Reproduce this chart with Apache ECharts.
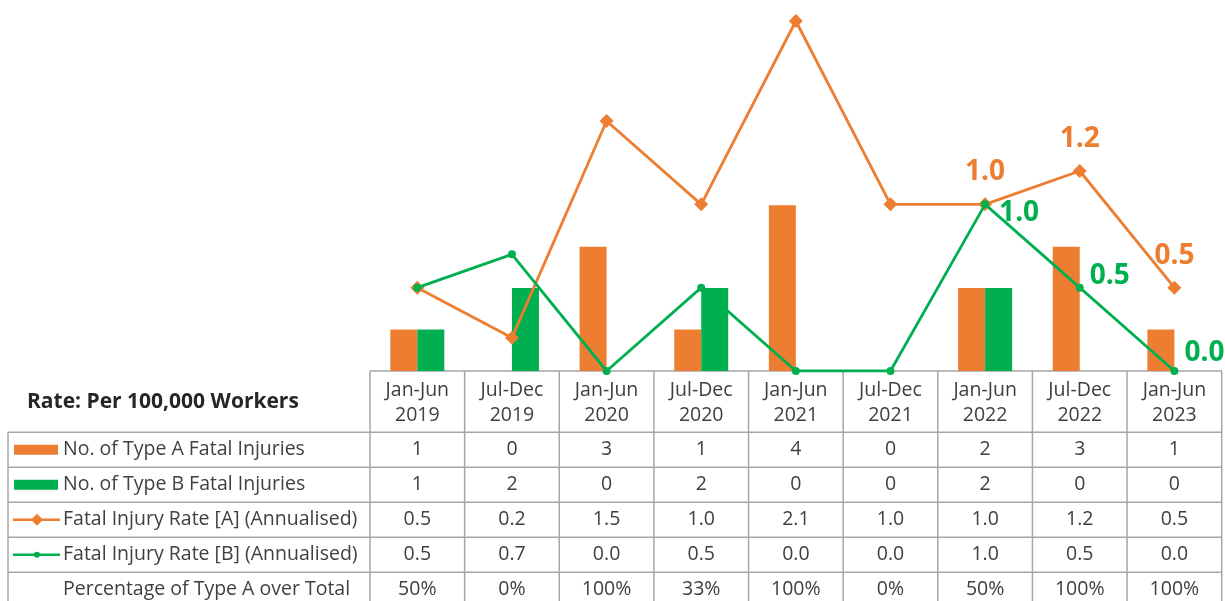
<!DOCTYPE html>
<html>
<head>
<meta charset="utf-8">
<script src="https://cdn.jsdelivr.net/npm/echarts@6/dist/echarts.min.js"></script>
<style>
html,body{margin:0;padding:0;background:#fff;}
#main{width:1225px;height:601px;}
</style>
</head>
<body>
<div id="main"></div>
<script>
// data
var periods = ['Jan-Jun\n2019','Jul-Dec\n2019','Jan-Jun\n2020','Jul-Dec\n2020','Jan-Jun\n2021','Jul-Dec\n2021','Jan-Jun\n2022','Jul-Dec\n2022','Jan-Jun\n2023'];
var typeA = [1,0,3,1,4,0,2,3,1];
var typeB = [1,2,0,2,0,0,2,0,0];
var rateA = [0.5,0.2,1.5,1.0,2.1,1.0,1.0,1.2,0.5];
var rateB = [0.5,0.7,0.0,0.5,0.0,0.0,1.0,0.5,0.0];
var pctA = ['50%','0%','100%','33%','100%','0%','50%','100%','100%'];
var rowNames = ['No. of Type A Fatal Injuries','No. of Type B Fatal Injuries','Fatal Injury Rate [A] (Annualised)','Fatal Injury Rate [B] (Annualised)','Percentage of Type A over Total'];
var tableTitle = 'Rate: Per 100,000 Workers';
var labelIdx = [6,7,8];   // points that carry a value label

var ORANGE = '#ED7D31', GREEN = '#00B050';
var FONT = 'Open Sans';
var TXT = '#404040', GRID = '#a6a6a6';

var dom = document.getElementById('main');
var myChart = echarts.init(dom);

// table geometry (px)
var tLeft = 8, cLeft = 370, cRight = 1221.7;
var colW = (cRight - cLeft) / periods.length;
var headTop = 371, headBot = 432.3, rowH = 35;

// green label nudges
var greenOff = {6:[4,9], 7:[0,-12], 8:[0,-18]};

var aData = rateA.map(function(v,i){
  var d = {value:v};
  if(labelIdx.indexOf(i) >= 0){
    d.label = {show:true, position:'top', distance:11, color:ORANGE, fontSize:28, fontWeight:'bold', fontFamily:FONT, formatter:function(p){return p.value.toFixed(1);}};
  }
  return d;
});
var bData = rateB.map(function(v,i){
  var d = {value:v};
  if(labelIdx.indexOf(i) >= 0){
    d.label = {show:true, position:'right', distance:6, offset:greenOff[i], color:GREEN, fontSize:28, fontWeight:'bold', fontFamily:FONT, formatter:function(p){return p.value.toFixed(1);}};
  }
  return d;
});

// table graphics
var g = [];
function hline(x1,x2,y){ g.push({type:'line', shape:{x1:x1,y1:y,x2:x2,y2:y}, style:{stroke:GRID, lineWidth:1.5}, silent:true}); }
function vline(x,y1,y2){ g.push({type:'line', shape:{x1:x,y1:y1,x2:x,y2:y2}, style:{stroke:GRID, lineWidth:1.5}, silent:true}); }
function txt(s,x,y,opt){
  opt = opt || {};
  g.push({type:'text', x:x, y:y, silent:true, style:{text:s, fill:opt.fill||TXT, fontSize:opt.size||19.5, fontFamily:FONT, fontWeight:opt.weight||'normal', align:opt.align||'center', verticalAlign:'middle', lineHeight:opt.lh||25}});
}

hline(cLeft, cRight, headTop);
hline(tLeft, cRight, headBot);
for (var r = 1; r <= rowNames.length; r++) hline(tLeft, cRight, headBot + r*rowH);
vline(tLeft, headBot, 601);
for (var c = 0; c <= periods.length; c++) vline(cLeft + c*colW, headTop, 601);

txt(tableTitle, 27, 402, {align:'left', weight:'bold', size:21, fill:'#262626'});

var rows = [
  typeA.map(String),
  typeB.map(String),
  rateA.map(function(v){return v.toFixed(1);}),
  rateB.map(function(v){return v.toFixed(1);}),
  pctA
];
for (var i = 0; i < periods.length; i++) {
  var cx = cLeft + colW*(i+0.5);
  txt(periods[i], cx, 402.5);
  for (var r = 0; r < rows.length; r++) {
    txt(rows[r][i], cx, headBot + rowH*(r+0.5));
  }
}
for (var r = 0; r < rowNames.length; r++) {
  var cy = headBot + rowH*(r+0.5);
  txt(rowNames[r], 63, cy, {align:'left'});
}
// row keys
var y0 = headBot + rowH*0.5, y1 = headBot + rowH*1.5, y2 = headBot + rowH*2.5, y3 = headBot + rowH*3.5;
g.push({type:'rect', shape:{x:14, y:y0-5, width:44, height:10}, style:{fill:ORANGE}, silent:true});
g.push({type:'rect', shape:{x:14, y:y1-5, width:44, height:10}, style:{fill:GREEN}, silent:true});
g.push({type:'line', shape:{x1:13,y1:y2,x2:60,y2:y2}, style:{stroke:ORANGE, lineWidth:2.5}, silent:true});
g.push({type:'polygon', shape:{points:[[37,y2-6],[43,y2],[37,y2+6],[31,y2]]}, style:{fill:ORANGE}, silent:true});
g.push({type:'line', shape:{x1:13,y1:y3,x2:60,y2:y3}, style:{stroke:GREEN, lineWidth:2.5}, silent:true});
g.push({type:'circle', shape:{cx:37, cy:y3, r:3}, style:{fill:GREEN}, silent:true});

var option = {
  animation:false,
  backgroundColor:'#fff',
  grid:{left:cLeft, right:1225-cRight, top:5, bottom:601-headTop},
  xAxis:{type:'category', data:periods, show:false},
  yAxis:[
    {type:'value', min:0, max:8.83, show:false},
    {type:'value', min:0, max:2.196, show:false}
  ],
  series:[
    {name:'No. of Type A Fatal Injuries', type:'bar', data:typeA, barWidth:27, barGap:'0%', itemStyle:{color:ORANGE}},
    {name:'No. of Type B Fatal Injuries', type:'bar', data:typeB, barWidth:27, barGap:'0%', itemStyle:{color:GREEN}},
    {name:'Fatal Injury Rate [A] (Annualised)', type:'line', yAxisIndex:1, data:aData, symbol:'diamond', symbolSize:14,
      lineStyle:{color:ORANGE, width:2.8}, itemStyle:{color:ORANGE}, z:3},
    {name:'Fatal Injury Rate [B] (Annualised)', type:'line', yAxisIndex:1, data:bData, symbol:'circle', symbolSize:8,
      lineStyle:{color:GREEN, width:2.8}, itemStyle:{color:GREEN}, z:4}
  ],
  graphic:g
};
myChart.setOption(option);
</script>
</body>
</html>
